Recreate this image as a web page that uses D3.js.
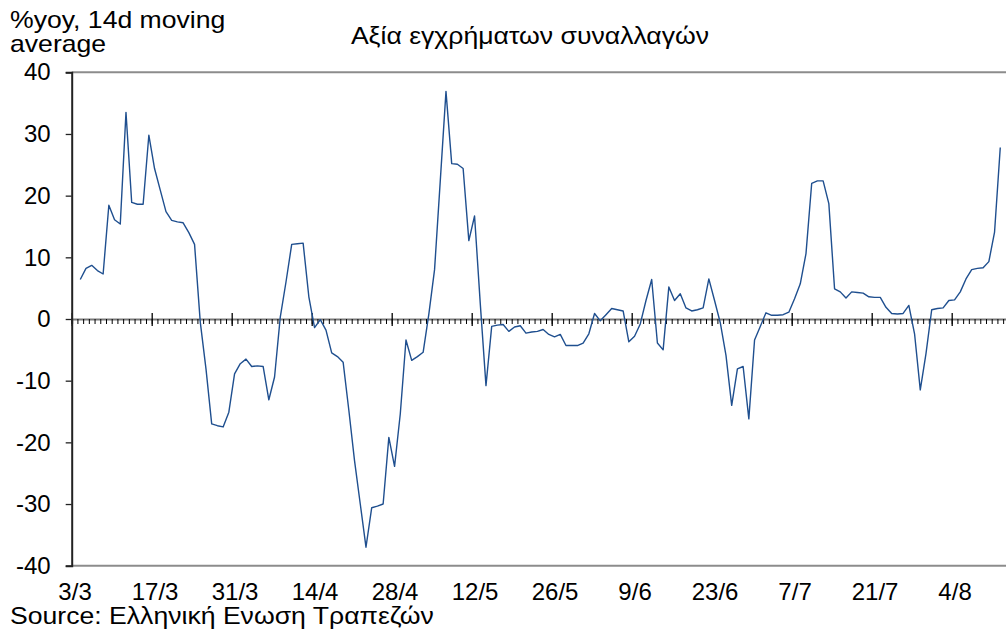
<!DOCTYPE html>
<html>
<head>
<meta charset="utf-8">
<script src="https://cdn.jsdelivr.net/npm/d3@7/dist/d3.min.js"></script>
<style>
  html, body { margin: 0; padding: 0; background: #fff; }
  svg { display: block; }
  text { font-family: "Liberation Sans", Arial, sans-serif; fill: #000; }
</style>
</head>
<body>
<svg id="chart" width="1006" height="635"></svg>
<script>
// Daily series: value of card/electronic transactions, %yoy, 14-day moving average
const firstDate = "2020-03-04";
const yoyValues = [
  6.4, 8.2, 8.7, 7.85, 7.3, 18.45, 16.1, 15.4, 33.5, 18.9,
  18.6, 18.6, 29.8, 24.4, 20.9, 17.4, 16.0, 15.75, 15.6, 14.0,
  12.1, -0.5, -8.1, -17.0, -17.3, -17.5, -15.1, -8.9, -7.25, -6.5,
  -7.7, -7.6, -7.7, -13.1, -9.4, 0.3, 6.0, 12.1, 12.2, 12.3,
  3.6, -1.4, -0.1, -1.8, -5.5, -6.1, -7.0, -14.8, -23.0, -30.0,
  -37.0, -30.6, -30.35, -30.0, -19.2, -23.9, -15.4, -3.4, -6.7, -6.1,
  -5.4, 0.8, 8.0, 22.4, 36.9, 25.2, 25.1, 24.4, 12.7, 16.7,
  2.5, -10.8, -1.2, -1.0, -0.9, -2.0, -1.3, -1.1, -2.3, -2.1,
  -2.0, -1.7, -2.5, -2.9, -2.5, -4.3, -4.3, -4.3, -3.9, -2.4,
  0.9, -0.3, 0.7, 1.7, 1.5, 1.3, -3.7, -2.8, -0.8, 3.0,
  6.4, -3.9, -5.0, 5.2, 3.0, 4.1, 1.8, 1.3, 1.5, 1.8,
  6.5, 3.0, -0.6, -5.9, -14.0, -8.1, -7.7, -16.2, -3.4, -1.2,
  1.0, 0.6, 0.6, 0.7, 1.1, 3.3, 5.7, 10.6, 22.0, 22.4,
  22.4, 18.7, 4.9, 4.4, 3.4, 4.4, 4.3, 4.2, 3.6, 3.5,
  3.5, 1.9, 0.9, 0.8, 0.9, 2.2, -2.4, -11.5, -5.6, 1.5,
  1.7, 1.8, 3.0, 3.1, 4.4, 6.5, 8.0, 8.2, 8.3, 9.3,
  14.1, 27.8
];
const tickLabels = ["3/3", "17/3", "31/3", "14/4", "28/4", "12/5", "26/5", "9/6", "23/6", "7/7", "21/7", "4/8"];
const yTicks = [-40, -30, -20, -10, 0, 10, 20, 30, 40];
const chartTitle = "Αξία εγχρήματων συναλλαγών";
const unitLines = ["%yoy, 14d moving", "average"];
const sourceNote = "Source: Ελληνική Ενωση Τραπεζών";

const svg = d3.select("#chart");
const TICK_FS = 24;   // axis numbers and dates
const TEXT_FS = 23;   // titles and notes
const TEXT_SX = 1.157; // wide-set lettering for the text blocks

const parseISO = d3.utcParse("%Y-%m-%d");
const parseDM = d3.utcParse("%d/%m/%Y");
const start = parseISO(firstDate);
const axisStart = d3.utcDay.offset(start, -1);
const slots = 164;

const left = 71.7, dayW = 80 / 14;
const x = d3.scaleUtc()
  .domain([axisStart, d3.utcDay.offset(axisStart, slots)])
  .range([left, left + slots * dayW]);
const y = d3.scaleLinear().domain([-40, 40]).range([565.7, 72.3]);
const mid = d => d3.utcHour.offset(d, 12);

const series = yoyValues.map((v, i) => ({ date: d3.utcDay.offset(start, i), value: v }));
const labelDates = tickLabels.map(t => parseDM(t + "/2020"));

// frame: top and bottom borders
svg.append("line").attr("x1", left).attr("x2", 1006).attr("y1", y(40)).attr("y2", y(40))
  .attr("stroke", "#8c8c8c").attr("stroke-width", 2);
svg.append("line").attr("x1", left).attr("x2", 1006).attr("y1", y(-40)).attr("y2", y(-40))
  .attr("stroke", "#8c8c8c").attr("stroke-width", 2);

// zero line with daily minor ticks
const dayBounds = d3.utcDay.range(axisStart, d3.utcDay.offset(axisStart, slots + 1));
const zeroAxis = svg.append("g").attr("transform", `translate(0,${y(0)})`)
  .call(d3.axisBottom(x).tickValues(dayBounds).tickSize(5).tickFormat(""));
zeroAxis.select(".domain").attr("stroke", "#7a7a7a").attr("stroke-width", 2);
zeroAxis.selectAll(".tick line").attr("stroke", "#000").attr("stroke-width", 1);

// major ticks every 14 days crossing the zero line
const majorAxis = svg.append("g").attr("transform", `translate(0,${y(0) - 6})`)
  .call(d3.axisBottom(x).tickValues(labelDates).tickSize(13).tickFormat(""));
majorAxis.select(".domain").remove();
majorAxis.selectAll(".tick line").attr("stroke", "#000").attr("stroke-width", 1.3);

// date labels under the plot
const xAxis = svg.append("g").attr("transform", `translate(0,${y(-40)})`)
  .call(d3.axisBottom(x).tickValues(labelDates.map(mid)).tickSize(0).tickPadding(17)
    .tickFormat((d, i) => tickLabels[i]));
xAxis.select(".domain").remove();
xAxis.selectAll("text").style("font-size", TICK_FS + "px");

// y axis
const yAxis = svg.append("g").attr("transform", `translate(${left},0)`)
  .call(d3.axisLeft(y).tickValues(yTicks).tickSize(6).tickPadding(15).tickFormat(d3.format("d")));
yAxis.select(".domain").attr("stroke", "#222").attr("stroke-width", 2);
yAxis.selectAll(".tick line").attr("stroke", "#222").attr("stroke-width", 1.3);
yAxis.selectAll("text").style("font-size", TICK_FS + "px").text(d => d < 0 ? "-" + Math.abs(d) : d);

// series line
const line = d3.line().x(d => x(mid(d.date))).y(d => y(d.value));
svg.append("path").datum(series).attr("d", line)
  .attr("fill", "none").attr("stroke", "#1f4f8f").attr("stroke-width", 1.4)
  .attr("stroke-linejoin", "round");

// titles and source note
function wideText(tx, ty, str, anchor) {
  svg.append("text")
    .attr("transform", `translate(${tx},${ty}) scale(${TEXT_SX},1)`)
    .attr("text-anchor", anchor || "start")
    .style("font-size", TEXT_FS + "px")
    .text(str);
}
wideText(530, 44, chartTitle, "middle");
unitLines.forEach((s, i) => wideText(10, 28 + i * 24, s));
wideText(10, 624, sourceNote);
</script>
</body>
</html>
